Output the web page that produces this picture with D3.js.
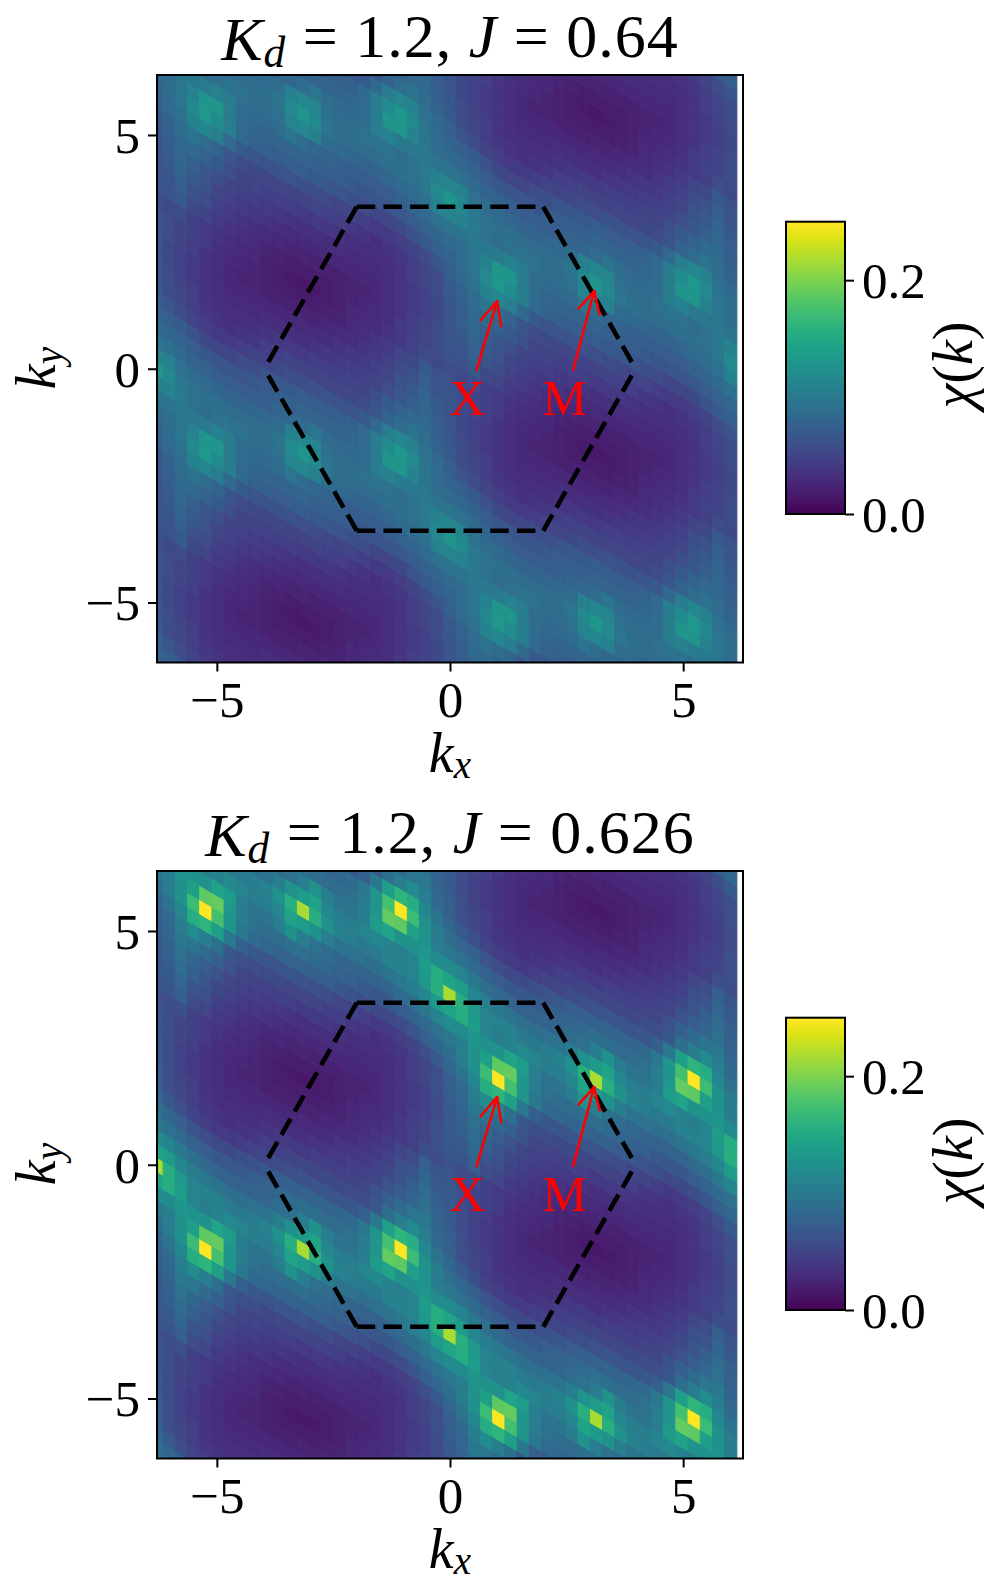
<!DOCTYPE html>
<html><head><meta charset="utf-8">
<script src="https://cdn.jsdelivr.net/npm/d3@7"></script>
<style>html,body{margin:0;padding:0;background:#fff}svg{display:block}text{font-family:"Liberation Serif",serif;fill:#000}</style>
</head><body><svg id="c" width="1000" height="1593"></svg>
<script>
// chi(k), as percent of the colour range, one repeat of the reciprocal lattice
const chi640 = [
[24,22,23,19,17,15,13,12,11,9,8,7,6,7,8,9,11,12,13,15,17,19,23,22],
[25,25,28,22,20,17,15,13,12,10,9,8,8,8,8,9,10,11,12,14,17,19,20,23],
[26,26,30,25,23,19,17,15,13,12,11,10,10,9,9,9,10,10,11,13,15,18,20,23],
[26,28,32,28,25,21,19,17,16,15,13,12,12,11,11,11,11,11,11,13,15,17,19,22],
[26,29,33,30,27,24,20,19,18,17,16,15,14,14,13,13,12,12,12,13,15,17,19,22],
[27,30,34,34,31,28,24,20,20,19,19,18,17,17,16,15,14,13,13,14,15,18,20,23],
[28,31,35,38,35,32,26,23,22,21,21,20,20,20,19,18,16,15,14,15,16,18,21,23],
[30,34,37,44,46,42,34,28,26,25,25,25,24,23,22,20,20,18,17,17,18,20,23,26],
[32,35,39,47,53,48,42,34,31,30,29,29,29,28,27,26,24,23,21,21,22,25,28,30],
[34,35,39,44,52,52,42,35,33,32,32,32,32,30,30,29,28,26,26,26,27,29,31,33],
[38,38,40,40,41,44,42,35,34,34,35,39,35,33,32,30,29,29,29,29,31,32,34,37],
[45,44,41,37,35,37,38,37,35,35,37,45,46,43,35,34,33,32,32,33,34,35,37,44],
[52,47,40,37,36,36,35,35,35,36,39,47,52,47,39,36,35,35,35,36,36,37,40,47],
[45,44,37,35,34,33,32,32,33,34,35,43,46,45,37,35,35,37,38,37,35,37,41,44],
[38,37,34,32,31,29,29,29,29,30,32,33,35,39,35,34,34,35,42,44,41,40,40,38],
[34,33,31,29,27,26,26,26,28,29,30,30,32,32,32,32,33,35,42,52,52,44,39,35],
[32,30,28,25,22,21,21,23,24,26,27,28,29,29,29,30,31,34,42,48,53,47,39,35],
[30,26,23,20,18,17,17,18,20,20,22,23,24,25,25,25,26,28,34,42,46,44,37,34],
[28,23,21,18,16,15,14,15,16,18,19,20,20,20,21,21,22,23,26,32,35,38,35,31],
[27,23,20,18,15,14,13,13,14,15,16,17,17,18,19,19,20,20,24,28,31,34,34,30],
[26,22,19,17,15,13,12,12,12,13,13,14,14,15,16,17,18,19,20,24,27,30,33,29],
[26,22,19,17,15,13,11,11,11,11,11,11,12,12,13,15,16,17,19,21,25,28,32,28],
[26,23,20,18,15,13,11,10,10,9,9,9,10,10,11,12,13,15,17,19,23,25,30,26],
[25,23,20,19,17,14,12,11,10,9,8,8,8,8,9,10,12,13,15,17,20,22,28,25]];
const chi626 = [
[25,23,24,19,17,15,13,12,11,9,8,7,6,7,8,9,11,12,13,15,17,19,24,23],
[27,26,30,23,21,17,15,13,12,10,9,8,8,8,8,9,10,11,12,14,17,19,20,24],
[28,28,33,26,24,19,17,15,13,12,11,10,10,9,9,9,10,10,11,13,15,18,20,24],
[28,30,35,30,26,22,19,17,16,15,13,12,12,11,11,11,11,11,11,13,15,17,19,23],
[28,31,37,33,29,25,21,19,18,17,16,15,14,14,13,13,12,12,12,13,15,17,19,23],
[29,33,40,39,34,30,25,21,20,19,19,18,17,17,16,15,14,13,13,14,15,18,20,24],
[30,34,42,48,42,36,27,24,23,22,22,21,21,20,19,18,16,15,14,15,16,18,21,24],
[33,38,46,62,65,56,40,30,27,26,26,26,25,24,23,21,20,18,17,17,18,20,24,28],
[36,42,50,68,100,70,52,40,34,33,32,32,31,30,29,27,25,24,22,22,23,26,30,33],
[40,42,50,56,75,76,52,42,37,35,35,36,36,34,33,31,30,28,27,27,29,31,34,37],
[48,48,52,50,50,58,55,42,38,38,42,50,42,37,35,33,32,31,31,32,34,36,40,45],
[58,62,55,45,42,44,47,45,42,42,46,58,55,50,42,38,37,36,36,38,40,42,46,55],
[87,63,53,45,44,44,41,41,42,44,50,63,87,63,50,44,42,41,41,44,44,45,53,63],
[58,55,46,42,40,38,36,36,37,38,42,50,55,58,46,42,42,45,47,44,42,45,55,62],
[48,45,40,36,34,32,31,31,32,33,35,37,42,50,42,38,38,42,55,58,50,50,52,48],
[40,37,34,31,29,27,27,28,30,31,33,34,36,36,35,35,37,42,52,76,75,56,50,42],
[36,33,30,26,23,22,22,24,25,27,29,30,31,32,32,33,34,40,52,70,100,68,50,42],
[33,28,24,20,18,17,17,18,20,21,23,24,25,26,26,26,27,30,40,56,65,62,46,38],
[30,24,21,18,16,15,14,15,16,18,19,20,21,21,22,22,23,24,27,36,42,48,42,34],
[29,24,20,18,15,14,13,13,14,15,16,17,17,18,19,19,20,21,25,30,34,39,40,33],
[28,23,19,17,15,13,12,12,12,13,13,14,14,15,16,17,18,19,21,25,29,33,37,31],
[28,23,19,17,15,13,11,11,11,11,11,11,12,12,13,15,16,17,19,22,26,30,35,30],
[28,24,20,18,15,13,11,10,10,9,9,9,10,10,11,12,13,15,17,19,24,26,33,28],
[27,24,20,19,17,14,12,11,10,9,8,8,8,8,9,10,12,13,15,17,21,23,30,26]];
const jValues = ["0.64","0.626"];
const tickValues = [-5,0,5];
const colorTicks = [0,0.2];
const chiMax = 0.25;
const hexEdges = [
 [[-2,3.465],[2,3.465]],[[-2,-3.465],[2,-3.465]],
 [[2,3.465],[3.98,0]],[[2,-3.465],[3.98,0]],
 [[-2,3.465],[-3.98,0]],[[-2,-3.465],[-3.98,0]]];
const arrows = [
 {name:"X",tail:[0.57,-0.03],tip:[1.01,1.445],barbA:[0.657,1.037],barbB:[1.098,0.915],lx:0.37,ly:-0.99},
 {name:"M",tail:[2.64,-0.03],tip:[3.09,1.66],barbA:[2.76,1.29],barbB:[3.21,1.16],lx:2.46,ly:-0.99}];

const svg = d3.select("#c");
const TAU = 2*Math.PI, nCols = 48;
const dx = TAU/24, rowH = 2*dx/Math.sqrt(3);
const mod = (a,n)=>((a%n)+n)%n;
const tickFont = 51, titleFont = 62, labelFont = 50;
const color = d3.scaleSequential(d3.interpolateViridis).domain([0,100]);

function math(sel, parts){ // parts: [text, italic?, sub?]
  let wasSub=false;
  parts.forEach(p=>{
    const t=sel.append("tspan").text(p[0]);
    if(p[1]) t.attr("font-style","italic");
    let dy=0;
    if(p[2]&&!wasSub) dy=0.17; if(!p[2]&&wasSub) dy=-0.17;
    if(dy) t.attr("dy",dy+"em");
    if(p[2]) t.attr("font-size","70%");
    wasSub=!!p[2];
  });
}

function panel(top, table, jv, idx){
  const left=157,right=743,h=587.5,bottom=top+h;
  const x=d3.scaleLinear().domain([-TAU,TAU]).range([left,right]);
  const y=d3.scaleLinear().domain([-TAU,TAU]).range([bottom,top]);
  const g=svg.append("g");
  g.append("clipPath").attr("id","clip"+idx).append("rect")
    .attr("x",left).attr("y",top).attr("width",right-left).attr("height",h);
  const cells=g.append("g").attr("clip-path",`url(#clip${idx})`);
  const data=[];
  d3.range(nCols).forEach(i=>{
    const u=i-24;
    d3.range(-36,37).forEach(m=>{
      const ky=(m-u/2)*rowH;
      if(Math.abs(ky)<TAU+rowH) data.push({u,m,kx:u*dx,ky,v:table[mod(m,24)][mod(u,24)]});
    });
  });
  cells.selectAll("path").data(data).join("path")
    .attr("d",d=>{
      const xl=x(d.kx-dx/2),xr=x(d.kx+dx/2);
      return `M${xl},${y(d.ky+rowH*0.75)}L${xr},${y(d.ky+rowH*0.25)}L${xr},${y(d.ky-rowH*0.75)}L${xl},${y(d.ky-rowH*0.25)}Z`;
    })
    .attr("fill",d=>color(d.v)).attr("stroke",d=>color(d.v)).attr("stroke-width",1);

  g.selectAll("line.hex").data(hexEdges).join("line").attr("class","hex")
    .attr("x1",d=>x(d[0][0])).attr("y1",d=>y(d[0][1])).attr("x2",d=>x(d[1][0])).attr("y2",d=>y(d[1][1]))
    .attr("stroke","#000").attr("stroke-width",4.6).attr("stroke-dasharray","18.5 8.2");

  arrows.forEach(a=>{
    const seg=(p,q)=>g.append("line").attr("x1",x(p[0])).attr("y1",y(p[1])).attr("x2",x(q[0])).attr("y2",y(q[1]))
      .attr("stroke","#ff0000").attr("stroke-width",2.6).attr("stroke-linecap","round");
    seg(a.tail,a.tip);seg(a.barbA,a.tip);seg(a.barbB,a.tip);
    g.append("text").attr("x",x(a.lx)).attr("y",y(a.ly)).attr("text-anchor","middle")
      .attr("font-size",labelFont).style("fill","#ff0000").text(a.name);
  });

  g.append("rect").attr("x",left).attr("y",top).attr("width",right-left).attr("height",h)
    .attr("fill","none").attr("stroke","#000").attr("stroke-width",2);

  const fmt=d=>String(d).replace("-","\u2212");
  const ax=g.append("g").attr("transform",`translate(0,${bottom})`)
    .call(d3.axisBottom(x).tickValues(tickValues).tickFormat(fmt).tickSize(9).tickPadding(9));
  const ay=g.append("g").attr("transform",`translate(${left},0)`)
    .call(d3.axisLeft(y).tickValues(tickValues).tickFormat(fmt).tickSize(9).tickPadding(8));
  [ax,ay].forEach(a=>{
    a.select(".domain").remove();
    a.selectAll("line").attr("stroke","#000").attr("stroke-width",2);
    a.selectAll("text").attr("font-size",tickFont).style("font-family",'"Liberation Serif",serif');
  });
  ay.selectAll("text").attr("dy","0.34em");

  math(g.append("text").attr("x",450).attr("y",top-15).attr("text-anchor","middle").attr("font-size",titleFont).attr("letter-spacing",1),
    [["K",1],["d",1,1],[" = 1.2, "],["J",1],[" = "+jv]]);
  math(g.append("text").attr("x",450).attr("y",top+h+109).attr("text-anchor","middle").attr("font-size",56),
    [["k",1],["x",1,1]]);
  math(g.append("text").attr("transform",`translate(55,${top+293}) rotate(-90)`).attr("text-anchor","middle").attr("font-size",56),
    [["k",1],["y",1,1]]);

  // colourbar
  const cbL=786,cbR=845,cbT=top+146.7,cbB=top+439;
  const cy=d3.scaleLinear().domain([0,chiMax]).range([cbB,cbT]);
  const steps=d3.range(0,256);
  g.append("g").attr("shape-rendering","crispEdges").selectAll("rect").data(steps).join("rect")
    .attr("x",cbL).attr("width",cbR-cbL)
    .attr("y",d=>cy((d+1)/256*chiMax)).attr("height",(cbB-cbT)/256+1)
    .attr("fill",d=>d3.interpolateViridis(d/255));
  g.append("rect").attr("x",cbL).attr("y",cbT).attr("width",cbR-cbL).attr("height",cbB-cbT)
    .attr("fill","none").attr("stroke","#000").attr("stroke-width",2);
  const ac=g.append("g").attr("transform",`translate(${cbR},0)`)
    .call(d3.axisRight(cy).tickValues(colorTicks).tickFormat(d3.format(".1f")).tickSize(9).tickPadding(8));
  ac.select(".domain").remove();
  ac.selectAll("line").attr("stroke","#000").attr("stroke-width",2);
  ac.selectAll("text").attr("font-size",tickFont).attr("dy","0.34em").style("font-family",'"Liberation Serif",serif');
  math(g.append("text").attr("transform",`translate(972,${top+290}) rotate(-90)`).attr("text-anchor","middle").attr("font-size",56),
    [["χ",1],["("],["k",1],[")"]]);
}
panel(75,chi640,jValues[0],0);
panel(871,chi626,jValues[1],1);
</script></body></html>
